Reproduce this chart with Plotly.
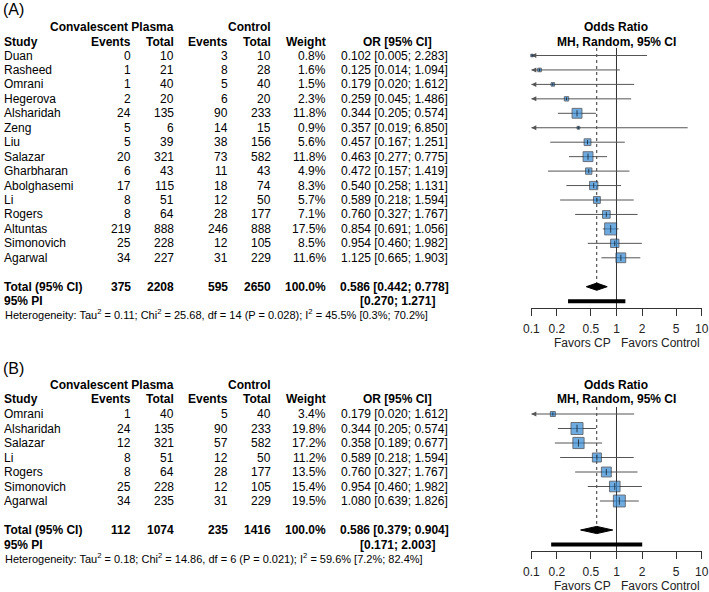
import numpy as np
import plotly.graph_objects as go

# ---------------- data: panel A ----------------
studies_A = ["Duan", "Rasheed", "Omrani", "Hegerova", "Alsharidah", "Zeng", "Liu", "Salazar",
             "Gharbharan", "Abolghasemi", "Li", "Rogers", "Altuntas", "Simonovich", "Agarwal"]
cp_events_A = [0, 1, 1, 2, 24, 5, 5, 20, 6, 17, 8, 8, 219, 25, 34]
cp_total_A = [10, 21, 40, 20, 135, 6, 39, 321, 43, 115, 51, 64, 888, 228, 227]
ctl_events_A = [3, 8, 5, 6, 90, 14, 38, 73, 11, 18, 12, 28, 246, 12, 31]
ctl_total_A = [10, 28, 40, 20, 233, 15, 156, 582, 43, 74, 50, 177, 888, 105, 229]
weight_A = [0.8, 1.6, 1.5, 2.3, 11.8, 0.9, 5.6, 11.8, 4.9, 8.3, 5.7, 7.1, 17.5, 8.5, 11.6]
or_A = [0.102, 0.125, 0.179, 0.259, 0.344, 0.357, 0.457, 0.463, 0.472, 0.540, 0.589, 0.760, 0.854, 0.954, 1.125]
lo_A = [0.005, 0.014, 0.020, 0.045, 0.205, 0.019, 0.167, 0.277, 0.157, 0.258, 0.218, 0.327, 0.691, 0.460, 0.665]
hi_A = [2.283, 1.094, 1.612, 1.486, 0.574, 6.850, 1.251, 0.775, 1.419, 1.131, 1.594, 1.767, 1.056, 1.982, 1.903]
total_A = {"cp_e": 375, "cp_n": 2208, "c_e": 595, "c_n": 2650, "or": 0.586, "lo": 0.442, "hi": 0.778,
           "pi_lo": 0.270, "pi_hi": 1.271}
het_A = ("Heterogeneity: Tau<sup>2</sup> = 0.11; Chi<sup>2</sup> = 25.68, df = 14 (P = 0.028); "
         "I<sup>2</sup> = 45.5% [0.3%; 70.2%]")

# ---------------- data: panel B ----------------
studies_B = ["Omrani", "Alsharidah", "Salazar", "Li", "Rogers", "Simonovich", "Agarwal"]
cp_events_B = [1, 24, 12, 8, 8, 25, 34]
cp_total_B = [40, 135, 321, 51, 64, 228, 235]
ctl_events_B = [5, 90, 57, 12, 28, 12, 31]
ctl_total_B = [40, 233, 582, 50, 177, 105, 229]
weight_B = [3.4, 19.8, 17.2, 11.2, 13.5, 15.4, 19.5]
or_B = [0.179, 0.344, 0.358, 0.589, 0.760, 0.954, 1.080]
lo_B = [0.020, 0.205, 0.189, 0.218, 0.327, 0.460, 0.639]
hi_B = [1.612, 0.574, 0.677, 1.594, 1.767, 1.982, 1.826]
total_B = {"cp_e": 112, "cp_n": 1074, "c_e": 235, "c_n": 1416, "or": 0.586, "lo": 0.379, "hi": 0.904,
           "pi_lo": 0.171, "pi_hi": 2.003}
het_B = ("Heterogeneity: Tau<sup>2</sup> = 0.18; Chi<sup>2</sup> = 14.86, df = 6 (P = 0.021); "
         "I<sup>2</sup> = 59.6% [7.2%; 82.4%]")

tick_vals = [0.1, 0.2, 0.5, 1, 2, 5, 10]
tick_text = ["0.1", "0.2", "0.5", "1", "2", "5", "10"]

# ---------------- styling / layout constants ----------------
W, H = 709, 592
FONT = "Liberation Sans, Arial, Helvetica, sans-serif"
FS = 12
SQ_FILL = "#3088d4"
SQ_LINE = "#2a3440"
CI_COL = "#555555"
XMIN, XMAX = 0.1, 10
X0_PX, X1_PX = 531.3, 701.7

fig = go.Figure()
annotations = []


def txt(x, y, text, anchor="right", size=FS, bold=False, color="black"):
    if bold:
        text = "<b>" + text + "</b>"
    annotations.append(dict(x=x / W, y=1 - y / H, xref="paper", yref="paper", text=text, showarrow=False,
                            xanchor=anchor, yanchor="middle",
                            font=dict(family=FONT, size=size, color=color)))


def panel(label, studies, cpe, cpn, ce, cn, w, orv, lo, hi, tot, het,
          xa, ya, y_label, y_group, y_head, y_row0, step, y_top_line, y_axis):
    txt(1, y_label, label, anchor="left", size=16)
    # headers
    txt(176, y_group, "Convalescent Plasma", bold=True)
    txt(273, y_group, "Control", bold=True)
    txt(2, y_head, "Study", anchor="left", bold=True)
    txt(133, y_head, "Events", bold=True)
    txt(176, y_head, "Total", bold=True)
    txt(230, y_head, "Events", bold=True)
    txt(273, y_head, "Total", bold=True)
    txt(328, y_head, "Weight", bold=True)
    txt(397, y_head, "OR [95% CI]", anchor="center", bold=True)
    txt(616, y_group, "Odds Ratio", anchor="center", bold=True)
    txt(616, y_head, "MH, Random, 95% CI", anchor="center", bold=True)

    ys = [y_row0 + i * step for i in range(len(studies))]
    for i, s in enumerate(studies):
        y = ys[i]
        txt(2, y, s, anchor="left")
        txt(133, y, str(cpe[i]))
        txt(176, y, str(cpn[i]))
        txt(230, y, str(ce[i]))
        txt(273, y, str(cn[i]))
        txt(328, y, f"{w[i]:.1f}%")
        txt(450, y, f"{orv[i]:.3f} [{lo[i]:.3f}; {hi[i]:.3f}]")

    y_tot = ys[-1] + 2 * step
    y_pi = y_tot + step
    y_het = y_pi + 13
    txt(2, y_tot, "Total (95% CI)", anchor="left", bold=True)
    txt(133, y_tot, str(tot["cp_e"]), bold=True)
    txt(176, y_tot, str(tot["cp_n"]), bold=True)
    txt(230, y_tot, str(tot["c_e"]), bold=True)
    txt(273, y_tot, str(tot["c_n"]), bold=True)
    txt(328, y_tot, "100.0%", bold=True)
    txt(451, y_tot, f"{tot['or']:.3f} [{tot['lo']:.3f}; {tot['hi']:.3f}]", bold=True)
    txt(2, y_pi, "95% PI", anchor="left", bold=True)
    txt(437, y_pi, f"[{tot['pi_lo']:.3f}; {tot['pi_hi']:.3f}]", bold=True)
    txt(3, y_het, het, anchor="left", size=11)

    # axis captions
    txt(582, y_axis + 34.5, "Favors CP", anchor="center", color="#222222")
    txt(660, y_axis + 34.5, "Favors Control", anchor="center", color="#222222")

    # reference lines
    fig.add_trace(go.Scatter(x=[1, 1], y=[y_top_line, y_axis], mode="lines", xaxis=xa, yaxis=ya,
                             line=dict(color="#333333", width=1), hoverinfo="skip"))
    fig.add_trace(go.Scatter(x=[tot["or"], tot["or"]], y=[y_top_line, y_tot], mode="lines",
                             xaxis=xa, yaxis=ya, line=dict(color="#333333", width=1, dash="dot"),
                             hoverinfo="skip"))

    # CI lines
    cx, cy = [], []
    for i in range(len(studies)):
        cx += [max(lo[i], XMIN), min(hi[i], XMAX), None]
        cy += [ys[i], ys[i], None]
    fig.add_trace(go.Scatter(x=cx, y=cy, mode="lines", xaxis=xa, yaxis=ya,
                             line=dict(color=CI_COL, width=1), hoverinfo="skip"))
    # arrows for truncated CIs
    ax_ = [XMIN for i in range(len(studies)) if lo[i] < XMIN]
    ay_ = [ys[i] for i in range(len(studies)) if lo[i] < XMIN]
    if ax_:
        fig.add_trace(go.Scatter(x=ax_, y=ay_, mode="markers", xaxis=xa, yaxis=ya, cliponaxis=False,
                                 marker=dict(symbol="arrow-left", size=5, color=CI_COL,
                                             line=dict(width=0)), hoverinfo="skip"))
    # squares
    wmax = max(w)
    sizes = [12 * np.sqrt(v / wmax) for v in w]
    fig.add_trace(go.Scatter(x=orv, y=ys, mode="markers", xaxis=xa, yaxis=ya, cliponaxis=False,
                             marker=dict(symbol="square", size=sizes, color=SQ_FILL,
                                         line=dict(color=SQ_LINE, width=1)), hoverinfo="skip"))
    fig.add_trace(go.Scatter(x=orv, y=ys, mode="markers", xaxis=xa, yaxis=ya, cliponaxis=False,
                             marker=dict(symbol="line-ns", size=[max(s * 0.45, 2) for s in sizes],
                                         color="black", line=dict(color="#111111", width=1)),
                             hoverinfo="skip"))
    # diamond
    dh = 3.6
    fig.add_trace(go.Scatter(x=[tot["lo"], tot["or"], tot["hi"], tot["or"], tot["lo"]],
                             y=[y_tot, y_tot - dh, y_tot, y_tot + dh, y_tot],
                             mode="lines", fill="toself", fillcolor="black", xaxis=xa, yaxis=ya,
                             line=dict(color="black", width=1), hoverinfo="skip"))
    # prediction interval
    fig.add_trace(go.Scatter(x=[tot["pi_lo"], tot["pi_hi"]], y=[y_pi, y_pi], mode="lines",
                             xaxis=xa, yaxis=ya, line=dict(color="black", width=4), hoverinfo="skip"))


panel("(A)", studies_A, cp_events_A, cp_total_A, ctl_events_A, ctl_total_A, weight_A, or_A, lo_A, hi_A,
      total_A, het_A, "x", "y", 10, 27, 42, 55.5, 14.45, 48, 308)
panel("(B)", studies_B, cp_events_B, cp_total_B, ctl_events_B, ctl_total_B, weight_B, or_B, lo_B, hi_B,
      total_B, het_B, "x2", "y2", 368, 385, 399, 414, 14.5, 407, 551)

axis_common = dict(type="log", range=[-1, 1], domain=[X0_PX / W, X1_PX / W], tickvals=tick_vals,
                   ticktext=tick_text, ticks="outside", ticklen=7, tickwidth=1, tickcolor="#333333",
                   ticklabelstandoff=3, automargin=False,
                   showline=True, linecolor="#333333", linewidth=1, showgrid=False, zeroline=False,
                   tickfont=dict(family=FONT, size=FS, color="#222222"), fixedrange=True)

fig.update_layout(
    width=W, height=H, margin=dict(l=0, r=0, t=0, b=0, pad=0, autoexpand=False),
    paper_bgcolor="white", plot_bgcolor="rgba(0,0,0,0)", showlegend=False,
    xaxis=dict(anchor="y", **axis_common),
    xaxis2=dict(anchor="y2", **axis_common),
    yaxis=dict(domain=[1 - 308 / H, 1], range=[308, 0], visible=False, fixedrange=True,
               automargin=False),
    yaxis2=dict(domain=[1 - 551 / H, 1 - 360 / H], range=[551, 360], visible=False, fixedrange=True,
                automargin=False),
    annotations=annotations,
)

fig.write_html("out.html", config={"displayModeBar": False},
               post_script="document.body.style.margin='0';document.body.style.overflow='hidden';")
